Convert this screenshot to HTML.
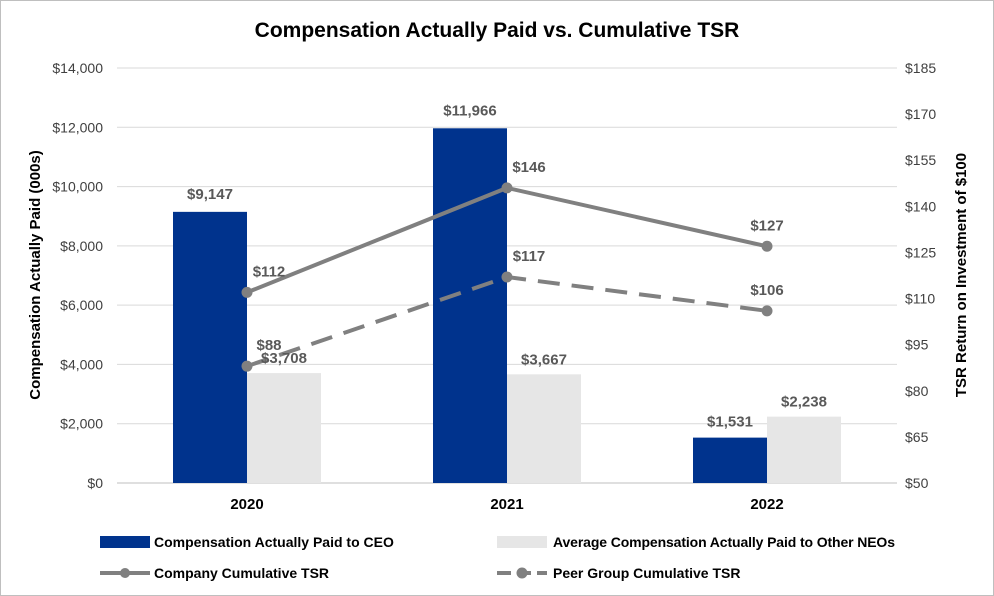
<!DOCTYPE html>
<html><head><meta charset="utf-8"><style>
body{margin:0;background:#fff}
svg{display:block;font-family:"Liberation Sans",sans-serif}
</style></head><body>
<svg id="c" width="994" height="596">
<rect x="0.5" y="0.5" width="993" height="595" fill="#fff" stroke="#BFBFBF"/>
<text x="497" y="37" text-anchor="middle" font-size="21" font-weight="bold" fill="#000">Compensation Actually Paid vs. Cumulative TSR</text>
<g id="grid"></g><g id="bars"></g><g id="lines"></g><g id="labels"></g><g id="axes"></g>
<text transform="translate(40,275) rotate(-90)" text-anchor="middle" font-size="15" font-weight="bold" fill="#000">Compensation Actually Paid (000s)</text>
<text transform="translate(966,275) rotate(-90)" text-anchor="middle" font-size="15" font-weight="bold" fill="#000">TSR Return on Investment of $100</text>
<g font-size="14" font-weight="bold" fill="#000">
<rect x="100" y="536" width="50" height="12" fill="#00338D"/>
<text x="154" y="547">Compensation Actually Paid to CEO</text>
<rect x="497" y="536" width="50" height="12" fill="#E6E6E6"/>
<text x="553" y="547" textLength="342">Average Compensation Actually Paid to Other NEOs</text>
<line x1="100" y1="573" x2="150" y2="573" stroke="#808080" stroke-width="4"/>
<circle cx="125" cy="573" r="5" fill="#808080"/>
<text x="154" y="578">Company Cumulative TSR</text>
<line x1="497" y1="573" x2="547" y2="573" stroke="#808080" stroke-width="4" stroke-dasharray="14,6"/>
<circle cx="522" cy="573" r="5.5" fill="#808080"/>
<text x="553" y="578">Peer Group Cumulative TSR</text>
</g>
</svg>
<script>
const categories=["2020","2021","2022"];
const ceoValues=[9147,11966,1531];
const neoValues=[3708,3667,2238];
const companyTSR=[112,146,127];
const peerTSR=[88,117,106];
const leftTicks=[0,2000,4000,6000,8000,10000,12000,14000];
const rightTicks=[50,65,80,95,110,125,140,155,170,185];
const NS="http://www.w3.org/2000/svg";
const X0=117,CW=260,Y0=483,Y1=68;
const yL=v=>Y0-(v/14000)*(Y0-Y1);
const yR=v=>Y0-((v-50)/135)*(Y0-Y1);
const xC=i=>X0+CW*(i+0.5);
function mk(tag,attrs,parent,txt){const e=document.createElementNS(NS,tag);for(const k in attrs)e.setAttribute(k,attrs[k]);if(txt!==undefined)e.textContent=txt;document.getElementById(parent).appendChild(e);return e;}
const fmt=v=>"$"+v.toLocaleString("en-US");
leftTicks.forEach(t=>{
 let l=mk("line",{x1:X0,x2:X0+CW*3,y1:yL(t),y2:yL(t),stroke:t===0?"#BFBFBF":"#D9D9D9"},"grid");
 
 
 let tx=mk("text",{x:103,y:yL(t)+5,"text-anchor":"end","font-size":"14",fill:"#404040"},"axes",fmt(t));
 
 
});
rightTicks.forEach(t=>{
 let tx=mk("text",{x:905,y:yR(t)+5,"font-size":"14",fill:"#404040"},"axes",fmt(t));
 
 
});
categories.forEach((c,i)=>{
 let tx=mk("text",{x:xC(i),y:509,"text-anchor":"middle","font-size":"15","font-weight":"bold",fill:"#000"},"axes",c);
 
 
 let b=mk("rect",{x:xC(i)-74,y:yL(ceoValues[i]),width:74,height:Y0-yL(ceoValues[i]),fill:"#00338D"},"bars");
 
 
 let n=mk("rect",{x:xC(i),y:yL(neoValues[i]),width:74,height:Y0-yL(neoValues[i]),fill:"#E6E6E6"},"bars");
 
 
 let l1=mk("text",{x:xC(i)-37,y:yL(ceoValues[i])-(i===2?11:13),"text-anchor":"middle","font-size":"15","font-weight":"bold",fill:"#595959"},"labels",fmt(ceoValues[i]));
 
 
 let l2=mk("text",{x:xC(i)+37,y:yL(neoValues[i])-10,"text-anchor":"middle","font-size":"15","font-weight":"bold",fill:"#595959"},"labels",fmt(neoValues[i]));
 
 
});
function series(vals,dash,name){
 const pts=vals.map((v,i)=>xC(i)+","+yR(v)).join(" ");
 let p=mk("polyline",{points:pts,fill:"none",stroke:"#808080","stroke-width":4,"stroke-dasharray":dash},"lines");
 
 
 vals.forEach((v,i)=>{
  let c=mk("circle",{cx:xC(i),cy:yR(v),r:5.5,fill:"#808080"},"lines");
  
  
  let t=mk("text",{x:xC(i)+(i<2?22:0),y:yR(v)-16,"text-anchor":"middle","font-size":"15","font-weight":"bold",fill:"#595959"},"labels",fmt(v));
  
  
 });
}
series(companyTSR,"none","company");
series(peerTSR,"22,12","peer");
</script>
</body></html>
